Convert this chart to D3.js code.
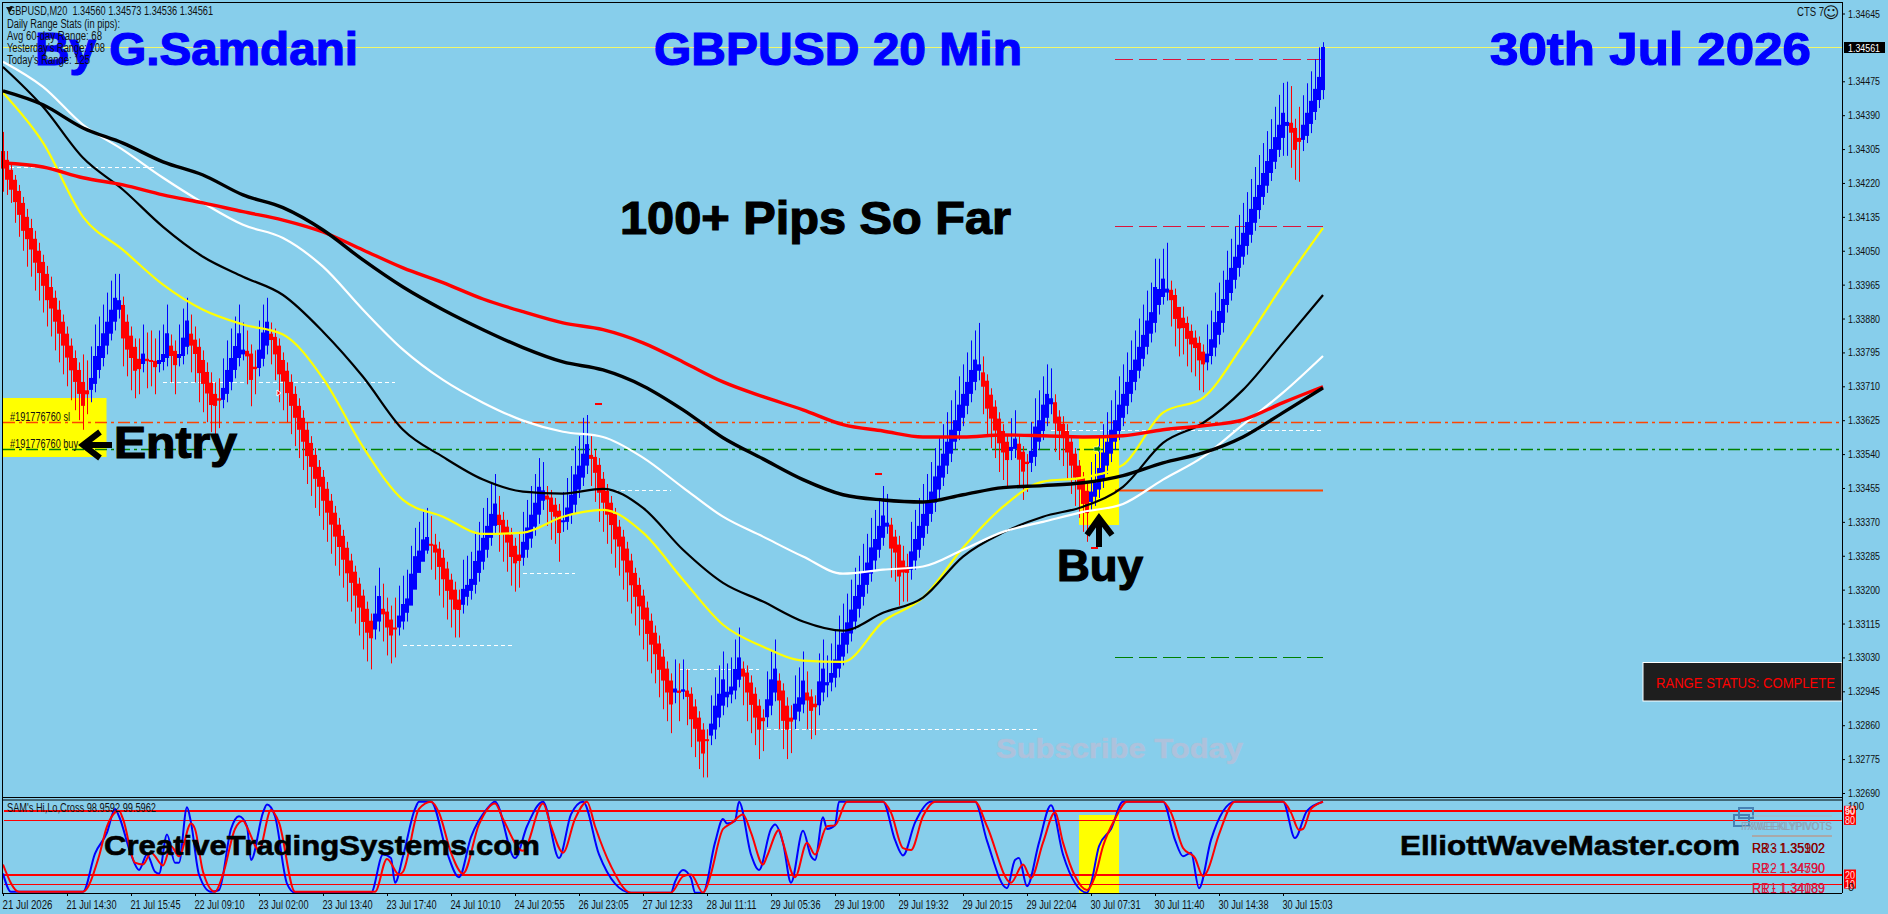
<!DOCTYPE html>
<html>
<head>
<meta charset="utf-8">
<title>GBPUSD 20 Min</title>
<script src="https://cdnjs.cloudflare.com/ajax/libs/d3/7.8.5/d3.min.js"></script>
<style>
  html, body { margin: 0; padding: 0; background: #87ceeb; overflow: hidden; }
  svg { display: block; }
  text { font-family: "Liberation Sans", Arial, sans-serif; }
</style>
</head>
<body>
<svg id="chart" width="1888" height="914"></svg>
<script>
// prices are points above 1.30000, so 4561 means 1.34561
const opens = [
  4300,4278,4253,4228,4200,4170,4135,4107,4080,4050,
  4022,3992,3959,3932,3902,3872,3842,3812,3781,3751,
  3721,3700,3701,3716,3751,3781,3812,3842,3872,3902,
  3914,3872,3837,3809,3779,3766,3779,3776,3774,3766,
  3771,3781,3812,3799,3781,3786,3809,3842,3827,3809,
  3776,3746,3719,3691,3680,3676,3691,3721,3751,3781,
  3790,3799,3792,3759,3756,3779,3812,3842,3834,3812,
  3776,3749,3721,3691,3661,3631,3601,3568,3538,3508,
  3483,3453,3423,3393,3363,3335,3305,3273,3245,3215,
  3185,3152,3122,3100,3120,3152,3145,3125,3105,3105,
  3120,3142,3160,3200,3242,3270,3298,3315,3313,3303,
  3280,3253,3225,3200,3175,3162,3182,3197,3212,3242,
  3270,3300,3330,3360,3388,3375,3358,3338,3310,3288,
  3280,3300,3328,3358,3388,3423,3436,3431,3413,3398,
  3370,3370,3388,3413,3451,3481,3511,3538,3533,3513,
  3478,3448,3418,3390,3358,3333,3303,3273,3242,3212,
  3185,3155,3122,3092,3065,3032,3002,2972,2942,2947,
  2944,2947,2939,2907,2879,2849,2825,2834,2849,2879,
  2909,2930,2937,2947,2974,3002,2992,2967,2939,2909,
  2879,2880,2909,2942,2972,2947,2909,2879,2874,2894,
  2912,2942,2932,2914,2910,2942,2960,2967,2979,3002,
  3032,3062,3090,3120,3152,3182,3212,3240,3273,3300,
  3330,3358,3363,3333,3313,3273,3258,3250,3273,3300,
  3330,3360,3390,3418,3451,3481,3511,3541,3571,3598,
  3631,3661,3691,3721,3749,3745,3724,3689,3659,3629,
  3598,3571,3548,3553,3566,3546,3521,3518,3533,3571,
  3598,3631,3665,3670,3634,3616,3598,3571,3541,3511,
  3481,3448,3420,3433,3451,3478,3511,3541,3571,3598,
  3631,3661,3691,3721,3749,3779,3809,3842,3869,3914,
  3934,3945,3952,3939,3909,3882,3869,3849,3832,3819,
  3797,3770,3786,3807,3839,3869,3914,3944,3977,4007,
  4035,4062,4090,4120,4152,4185,4213,4245,4273,4303,
  4333,4363,4371,4358,4333,4328,4338,4368,4398,4428,4453
];
const closes = [
  4256,4228,4203,4172,4140,4100,4079,4053,4020,3994,
  3962,3926,3905,3872,3842,3812,3782,3750,3721,3691,
  3661,3690,3731,3786,3811,3843,3872,3902,3932,3926,
  3830,3802,3781,3749,3753,3792,3773,3772,3758,3776,
  3791,3843,3786,3763,3791,3832,3875,3812,3791,3743,
  3716,3692,3663,3661,3674,3706,3751,3781,3811,3843,
  3802,3785,3726,3753,3802,3845,3872,3826,3790,3740,
  3722,3693,3661,3631,3601,3571,3535,3508,3478,3458,
  3423,3393,3363,3333,3307,3275,3241,3217,3185,3155,
  3119,3092,3078,3140,3184,3138,3105,3085,3100,3135,
  3164,3178,3240,3284,3298,3326,3332,3311,3293,3257,
  3226,3197,3175,3150,3149,3202,3212,3227,3272,3298,
  3330,3360,3390,3416,3362,3341,3318,3282,3266,3272,
  3320,3356,3388,3418,3458,3449,3426,3395,3383,3342,
  3374,3406,3438,3489,3511,3541,3565,3528,3493,3443,
  3418,3388,3362,3326,3308,3273,3243,3211,3182,3158,
  3125,3089,3062,3038,2999,2972,2942,2912,2952,2941,
  2950,2931,2875,2851,2819,2789,2821,2864,2909,2939,
  2975,2944,2957,3001,3030,2982,2942,2911,2879,2849,
  2870,2925,2975,3002,2922,2871,2849,2869,2914,2930,
  2972,2922,2896,2905,2970,3002,2968,2991,3025,3062,
  3092,3118,3150,3184,3212,3242,3268,3306,3327,3360,
  3386,3368,3303,3293,3233,3243,3242,3296,3327,3360,
  3390,3420,3446,3484,3511,3541,3571,3601,3625,3664,
  3691,3721,3751,3777,3765,3709,3654,3629,3599,3567,
  3544,3525,3558,3579,3526,3496,3515,3548,3609,3625,
  3664,3691,3680,3617,3598,3580,3544,3511,3481,3451,
  3415,3392,3446,3469,3505,3544,3571,3601,3625,3664,
  3691,3721,3751,3777,3809,3839,3875,3896,3959,3954,
  3980,3955,3926,3879,3855,3856,3829,3815,3806,3775,
  3765,3792,3828,3871,3899,3929,3977,4007,4035,4065,
  4095,4122,4155,4185,4215,4245,4275,4305,4335,4366,
  4396,4373,4346,4303,4323,4366,4396,4426,4456,4486,4561
];
const highs = [
  4348,4300,4268,4240,4215,4185,4155,4130,4100,4070,
  4040,4012,3985,3950,3925,3890,3860,3830,3800,3770,
  3790,3775,3810,3865,3885,3915,3945,3975,3992,3992,
  3935,3890,3860,3830,3830,3865,3845,3850,3830,3850,
  3865,3915,3840,3825,3865,3905,3932,3890,3860,3830,
  3800,3770,3745,3720,3730,3780,3825,3855,3885,3915,
  3870,3850,3815,3800,3875,3915,3932,3870,3855,3830,
  3795,3770,3740,3710,3680,3650,3620,3585,3555,3525,
  3500,3470,3440,3410,3380,3350,3320,3290,3260,3230,
  3200,3170,3140,3210,3255,3215,3180,3160,3180,3210,
  3235,3250,3310,3355,3370,3395,3405,3385,3340,3320,
  3300,3270,3240,3220,3200,3275,3285,3295,3345,3370,
  3405,3430,3465,3490,3435,3395,3375,3355,3330,3345,
  3395,3425,3460,3490,3530,3520,3460,3450,3430,3415,
  3445,3480,3510,3560,3585,3631,3638,3585,3550,3530,
  3495,3465,3435,3405,3375,3350,3320,3290,3255,3230,
  3200,3170,3140,3110,3085,3050,3020,2990,3025,3015,
  3025,3000,2955,2925,2895,2865,2850,2935,2980,3010,
  3045,3015,3030,3075,3105,3020,3010,2985,2955,2925,
  2900,2995,3045,3075,2990,2965,2930,2910,2985,3005,
  3045,2995,2950,2935,3040,3075,3035,3065,3100,3135,
  3165,3190,3225,3255,3285,3315,3340,3380,3400,3430,
  3460,3440,3380,3350,3335,3310,3290,3370,3400,3430,
  3465,3490,3520,3555,3585,3615,3645,3675,3700,3735,
  3765,3795,3825,3850,3869,3785,3740,3705,3675,3645,
  3615,3590,3630,3650,3585,3560,3540,3620,3680,3700,
  3735,3765,3755,3690,3650,3635,3615,3585,3555,3525,
  3495,3465,3520,3540,3580,3615,3645,3675,3700,3735,
  3765,3795,3825,3850,3880,3915,3950,3970,4030,4030,
  4055,4070,3975,3955,3905,3910,3885,3865,3850,3835,
  3815,3865,3900,3945,3970,4000,4050,4080,4110,4140,
  4170,4197,4230,4260,4290,4320,4350,4380,4411,4441,
  4471,4474,4463,4381,4411,4440,4470,4500,4530,4560,4573
];
const lows = [
  4198,4190,4170,4120,4085,4050,4010,3985,3950,3925,
  3895,3860,3835,3800,3770,3740,3710,3675,3650,3625,
  3601,3640,3670,3695,3730,3760,3790,3825,3850,3880,
  3760,3735,3700,3680,3690,3745,3705,3710,3690,3745,
  3750,3760,3720,3690,3760,3765,3790,3745,3720,3670,
  3645,3620,3595,3590,3605,3655,3670,3700,3730,3760,
  3775,3715,3660,3690,3735,3760,3790,3765,3725,3670,
  3650,3620,3590,3560,3530,3500,3465,3435,3405,3385,
  3350,3320,3290,3260,3235,3205,3170,3145,3115,3085,
  3050,3020,3000,3075,3095,3070,3035,3015,3030,3085,
  3100,3120,3175,3215,3250,3275,3290,3250,3225,3185,
  3155,3125,3105,3080,3080,3140,3160,3175,3190,3220,
  3250,3280,3310,3340,3295,3270,3245,3210,3195,3205,
  3260,3280,3305,3335,3365,3400,3360,3325,3315,3270,
  3345,3350,3365,3390,3430,3460,3490,3460,3420,3370,
  3345,3315,3290,3255,3235,3200,3170,3140,3110,3085,
  3050,3020,2990,2965,2930,2900,2870,2840,2915,2870,
  2925,2860,2805,2780,2750,2729,2729,2810,2825,2855,
  2885,2905,2915,2925,2955,2910,2870,2840,2810,2775,
  2795,2855,2885,2920,2850,2800,2775,2790,2850,2870,
  2890,2850,2825,2835,2885,2920,2930,2945,2955,2980,
  3010,3040,3070,3100,3130,3160,3190,3220,3250,3280,
  3310,3340,3230,3220,3160,3170,3170,3225,3250,3280,
  3310,3340,3370,3395,3430,3460,3490,3520,3550,3575,
  3610,3640,3670,3700,3725,3640,3585,3555,3530,3495,
  3475,3455,3525,3530,3455,3425,3445,3495,3510,3550,
  3575,3610,3640,3545,3525,3510,3475,3440,3410,3380,
  3345,3320,3400,3410,3430,3455,3490,3520,3550,3575,
  3610,3640,3670,3700,3730,3760,3790,3820,3845,3890,
  3915,3925,3860,3810,3785,3790,3760,3745,3735,3700,
  3695,3750,3765,3785,3815,3845,3895,3925,3955,3985,
  4015,4040,4070,4100,4130,4165,4195,4225,4255,4285,
  4288,4288,4258,4228,4223,4300,4320,4345,4378,4408,4430
];

// moving averages, one reading every 10 bars
const maBars = [0,10,20,30,40,50,60,70,80,90,100,110,120,130,140,150,160,170,180,190,200,210,220,230,240,250,260,270,280,290,300,310,320,330];
const maRedThick = [4270,4260,4233,4215,4190,4170,4148,4127,4097,4052,4007,3970,3929,3897,3869,3852,3819,3771,3721,3684,3651,3614,3598,3583,3583,3588,3586,3583,3586,3601,3611,3626,3669,3709];
const maBlackThick = [4451,4416,4358,4320,4273,4240,4190,4158,4102,4027,3959,3902,3852,3807,3771,3751,3711,3651,3581,3528,3476,3438,3425,3420,3438,3456,3461,3468,3486,3518,3543,3583,3644,3706];
const maWhite = [4524,4461,4366,4303,4233,4170,4115,4082,4010,3902,3802,3726,3669,3624,3596,3583,3531,3456,3383,3333,3283,3240,3250,3258,3300,3345,3370,3395,3415,3476,3533,3614,3694,3786];
const maBlackThin = [4511,4411,4283,4203,4110,4035,3985,3939,3847,3734,3601,3533,3476,3446,3441,3453,3405,3300,3217,3170,3120,3097,3142,3180,3283,3343,3383,3408,3458,3568,3618,3701,3819,3939];
const maYellow = [4446,4321,4135,4052,3965,3902,3865,3840,3730,3558,3425,3383,3340,3343,3383,3400,3343,3225,3112,3057,3022,3019,3120,3180,3305,3408,3471,3481,3513,3644,3681,3814,3965,4107];

// Hi,Lo cross oscillator turning points
const oscBlueBars = [0,2,20,23,26,28,29,32,34,36,38,39,41,43,44,46,47,49,52,54,57,59,61,62,65,66,68,71,73,92,95,97,98,100,103,104,107,111,114,117,121,123,128,131,135,139,142,145,149,153,157,167,168,170,172,173,175,178,180,181,183,184,187,189,192,193,195,197,200,202,203,205,206,208,209,211,220,223,225,228,232,234,243,246,251,253,254,256,259,262,265,271,272,274,277,280,282,290,293,295,297,299,302,308,314,320,323,326,330];
const oscBlue = [21,1,1,43,66,92,84,42,25,42,23,21,64,33,33,94,77,20,1,3,70,84,73,36,88,97,84,10,0,0,42,38,11,40,92,100,100,44,17,61,92,100,38,73,100,38,86,100,42,10,0,0,12,25,16,0,0,55,81,76,79,100,42,25,70,75,55,11,68,40,36,83,70,74,100,100,100,58,41,77,100,100,100,57,5,36,38,7,55,96,42,0,10,51,70,100,100,100,58,40,44,5,58,100,100,100,60,90,100];
const oscRedBars = [0,4,20,24,26,29,30,33,35,37,40,42,44,47,48,50,53,55,58,60,61,64,67,69,73,93,96,99,100,104,107,109,112,115,119,123,125,130,135,137,140,143,146,148,152,157,167,170,172,175,176,177,180,182,185,187,190,191,194,195,198,201,203,206,208,211,220,222,225,227,230,233,243,246,252,255,257,260,263,265,268,271,273,275,278,281,290,292,295,298,300,301,304,308,320,322,324,325,327,330];
const oscRed = [31,1,1,40,73,90,81,33,31,44,30,51,40,76,70,23,1,20,70,79,72,47,91,77,1,1,37,20,23,92,100,88,44,21,75,98,81,46,98,73,44,81,100,73,29,0,0,18,20,0,7,21,70,76,86,66,31,40,69,55,17,55,42,73,74,100,100,88,49,47,84,100,100,73,11,31,16,55,88,55,18,3,18,51,81,100,100,88,49,38,18,23,64,100,100,88,69,70,92,100];
const oscLevels = [90, 80, 20, 10];

const priceTicks = [4645,4475,4390,4305,4220,4135,4050,3965,3880,3795,3710,3625,3540,3455,3370,3285,3200,3115,3030,2945,2860,2775,2690];
const timeLabels = ["21 Jul 2026","21 Jul 14:30","21 Jul 15:45","22 Jul 09:10","23 Jul 02:00","23 Jul 13:40","23 Jul 17:40","24 Jul 10:10","24 Jul 20:55","26 Jul 23:05","27 Jul 12:33","28 Jul 11:11","29 Jul 05:36","29 Jul 19:00","29 Jul 19:32","29 Jul 20:15","29 Jul 22:04","30 Jul 07:31","30 Jul 11:40","30 Jul 14:38","30 Jul 15:03"];
const lastPrice = 4561;
const slLevel = 3620;
const buyLevel = 3552;
const statsLines = ["Daily Range Stats (in pips):","Avg 60-day Range: 68","Yesterday's Range: 108","Today's Range: 125"];
const statsWidths = [113, 95, 98, 83];

// range lines: [price, first bar, last bar]
const whiteLevels = [[4260,0,38],[3721,40,61],[3721,64,98],[3243,130,143],[3449,151,167],[3062,100,128],[3001,169,189],[2851,191,259],[3600,262,330]];
const dayLevels = [[4530,"#dc143c"],[4112,"#dc143c"],[3031,"#008000"]];
const dayStart = 278;
const orangeLevel = 3451;
const pivotLabels = [["R3 - 1.35102","RR3 1.35902","#8b0000",853],["R2 - 1.34590","RR2 1.34790","#dc143c",873],["R1 - 1.34189","RR1 1.34089","#dc143c",893]];

const svg = d3.select("#chart");
const bg = "#87ceeb";

const x = d3.scaleLinear().domain([0, 330]).range([3, 1323]);
const y = d3.scaleLinear().domain([2690, 4645]).range([793, 13.5]);
const yOsc = d3.scaleLinear().domain([0, 100]).range([892.7, 801.7]);
const fmtPrice = d => "1." + String(30000 + d);
const snap = v => Math.round(v) + 0.5; // keeps 1px lines crisp

function label(t, px, py, o) {
  o = o || {};
  const el = svg.append("text").attr("x", px).attr("y", py).text(t)
    .attr("font-size", o.size || 12)
    .attr("font-weight", o.bold ? "bold" : null)
    .attr("fill", o.fill || "#111")
    .attr("stroke", o.heavy ? (o.fill || "#111") : null)
    .attr("stroke-width", o.heavy || null);
  if (o.w) el.attr("textLength", o.w).attr("lengthAdjust", "spacingAndGlyphs");
  return el;
}

function hline(v, b0, b1, color, dash, width) {
  svg.append("line").attr("x1", b0).attr("x2", b1).attr("y1", snap(y(v))).attr("y2", snap(y(v)))
    .attr("stroke", color).attr("stroke-dasharray", dash).attr("stroke-width", width || 1);
}

svg.append("rect").attr("width", 1888).attr("height", 914).attr("fill", bg);

// yellow boxes behind the bars
svg.append("rect").attr("x", 3).attr("y", 398).attr("width", 103.5).attr("height", 59).attr("fill", "#ffff00");
svg.append("rect").attr("x", x(269)).attr("y", 438).attr("width", 40).attr("height", 87).attr("fill", "#ffff00");
svg.append("rect").attr("x", x(269)).attr("y", 815).attr("width", 40).attr("height", 78).attr("fill", "#ffff00");

// price line and order lines
hline(lastPrice, 3, 1842, "#f2f76a");
hline(slLevel, 3, 1842, "#ff4500", "12,4,3,4", 1.4);
hline(buyLevel, 3, 1842, "#008000", "12,4,3,4", 1.4);
dayLevels.forEach(d => hline(d[0], x(dayStart), x(330), d[1], "18,6"));
hline(orangeLevel, x(dayStart), x(330), "#ff4500", null, 2);
whiteLevels.forEach(d => hline(d[0], x(d[1]), x(d[2]), "#ffffff", "4,3"));

// bars
const barColor = i => closes[i] < opens[i] ? "#ff0000" : "#0000ff";
svg.append("g").selectAll("line").data(d3.range(opens.length)).join("line")
  .attr("x1", i => x(i) + 0.5).attr("x2", i => x(i) + 0.5)
  .attr("y1", i => y(highs[i])).attr("y2", i => y(lows[i]))
  .attr("stroke", barColor).attr("stroke-width", 1);
svg.append("g").selectAll("rect").data(d3.range(opens.length)).join("rect")
  .attr("x", i => x(i) - 2).attr("width", 4)
  .attr("y", i => y(Math.max(opens[i], closes[i])))
  .attr("height", i => Math.max(2, Math.abs(y(opens[i]) - y(closes[i]))))
  .attr("fill", barColor);

// small order markers
svg.append("rect").attr("x", x(148)).attr("width", 7).attr("y", 403).attr("height", 2).attr("fill", "#ff0000");
svg.append("rect").attr("x", x(218)).attr("width", 7).attr("y", 473).attr("height", 2).attr("fill", "#ff0000");
svg.append("rect").attr("x", x(272)).attr("width", 7).attr("y", 547).attr("height", 2).attr("fill", "#ff0000");
svg.append("path").attr("d", "M277,390 l4,3 l-4,3 z").attr("fill", "#ff0000").attr("stroke", "#fff");
svg.append("path").attr("d", "M1094,447 h4 v-2 l3,4 l-3,4 v-2 h-4 z").attr("fill", "#008000").attr("stroke", "#fff").attr("stroke-width", 0.5);

// moving averages
const maLine = d3.line().x((d, i) => x(maBars[i])).y(d => y(d)).curve(d3.curveMonotoneX);
[[maYellow, "#ffff00", 2.2], [maBlackThin, "#000000", 2.2], [maWhite, "#ffffff", 2.2], [maRedThick, "#ff0000", 3.4], [maBlackThick, "#000000", 3.4]]
  .forEach(m => {
    svg.append("path").attr("d", maLine(m[0])).attr("fill", "none").attr("stroke", m[1]).attr("stroke-width", m[2]);
  });

// big text
label("By G.Samdani", 35, 65, { size: 46, bold: true, fill: "#0000ff", w: 323, heavy: 1.2 });
label("GBPUSD 20 Min", 654, 65, { size: 46, bold: true, fill: "#0000ff", w: 368, heavy: 1.2 });
label("30th Jul 2026", 1490, 65, { size: 47, bold: true, fill: "#0000ff", w: 321, heavy: 1.2 });
label("100+ Pips So Far", 620, 234, { size: 46, bold: true, fill: "#000", w: 391, heavy: 1.2 });
label("Entry", 114, 458, { size: 44, bold: true, fill: "#000", w: 123, heavy: 1.2 });
label("Buy", 1057, 581, { size: 44, bold: true, fill: "#000", w: 86, heavy: 1.2 });
label("Subscribe Today", 996, 758, { size: 27, bold: true, fill: "#aec2dc", w: 247, heavy: 0.5 });

// arrows next to Entry and Buy
svg.append("path").attr("d", "M112,445 H84 M100,432 L83,445 L100,458").attr("fill", "none").attr("stroke", "#000").attr("stroke-width", 6);
svg.append("path").attr("d", "M1099,547 V519 M1087,535 L1099,518 L1112,535").attr("fill", "none").attr("stroke", "#000").attr("stroke-width", 6);

// chart corner text
svg.append("path").attr("d", "M6,7 h7 l-3.5,6 z").attr("fill", "#111");
label("GBPUSD,M20  1.34560 1.34573 1.34536 1.34561", 8, 15, { w: 205 }).style("white-space", "pre");
statsLines.forEach((t, i) => label(t, 7, 28 + i * 12, { w: statsWidths[i] }));
label("#191776760 sl", 10, 421, { w: 60 });
label("#191776760 buy", 10, 448, { w: 68 });
label("CTS 7", 1797, 16, { w: 27 });
svg.append("text").attr("x", 1831).attr("y", 18).attr("text-anchor", "middle").attr("font-size", 16)
  .style("font-family", "DejaVu Sans").attr("fill", "#111").text("\u263a");

// range status panel
svg.append("rect").attr("x", 1643).attr("y", 662.5).attr("width", 199).attr("height", 38.5)
  .attr("fill", "#1e1e1e").attr("stroke", "#ffffff");
label("RANGE STATUS: COMPLETE", 1656, 688, { size: 14, fill: "#ff0000", w: 179 });

// oscillator window
oscLevels.forEach((lv, i) => {
  const yy = i % 2 ? snap(yOsc(lv)) : Math.round(yOsc(lv));
  svg.append("line").attr("x1", 4).attr("x2", 1842).attr("y1", yy).attr("y2", yy)
    .attr("stroke", "#ff0000").attr("stroke-width", i % 2 ? 1 : 2);
});
const blueLine = d3.line().x((d, i) => x(oscBlueBars[i])).y(d => yOsc(d)).curve(d3.curveMonotoneX);
const redLine = d3.line().x((d, i) => x(oscRedBars[i])).y(d => yOsc(d)).curve(d3.curveMonotoneX);
svg.append("path").attr("d", blueLine(oscBlue)).attr("fill", "none").attr("stroke", "#0000ff").attr("stroke-width", 2);
svg.append("path").attr("d", redLine(oscRed)).attr("fill", "none").attr("stroke", "#ff0000").attr("stroke-width", 2);

label("SAM's Hi,Lo,Cross 98.9592 99.5962", 7, 812, { w: 149 });
label("CreativeTradingSystems.com", 104, 855, { size: 28, bold: true, fill: "#000", w: 436, heavy: 0.6 });
label("ElliottWaveMaster.com", 1400, 855, { size: 28, bold: true, fill: "#000", w: 340, heavy: 0.6 });

// pivot panel, two labels printed on top of each other
svg.append("rect").attr("x", 1739).attr("y", 808).attr("width", 14).attr("height", 10).attr("fill", "none").attr("stroke", "#4682b4").attr("stroke-width", 2);
svg.append("rect").attr("x", 1734).attr("y", 815).attr("width", 15).attr("height", 11).attr("fill", "none").attr("stroke", "#4682b4").attr("stroke-width", 2);
svg.append("line").attr("x1", 1752).attr("x2", 1832).attr("y1", 816).attr("y2", 816).attr("stroke", "#a9b8c4");
svg.append("line").attr("x1", 1752).attr("x2", 1832).attr("y1", 836).attr("y2", 836).attr("stroke", "#a9a9a9").attr("stroke-width", 2);
label("FXWEEKLYPIVOTS", 1741, 830, { size: 11, fill: "#8fa3b5", w: 91 });
label("FXWEEKLYPIVOTS", 1744, 830, { size: 11, fill: "#8fa3b5", w: 88 });
pivotLabels.forEach(r => {
  label(r[0], 1752, r[3], { size: 14, fill: r[2], w: 73 });
  label(r[1], 1752, r[3], { size: 14, fill: r[2], w: 73 });
});

// right side scale of the oscillator
oscLevels.forEach(lv => {
  svg.append("rect").attr("x", 1844).attr("y", yOsc(lv) - 5).attr("width", 12).attr("height", 10).attr("fill", "#ff0000");
  label(lv, 1845, yOsc(lv) + 4, { size: 11, fill: "#ffe0e0", w: 10 });
});
label("100", 1848, 810, { size: 11, w: 16 });
label("50", 1845, 814, { size: 11, fill: "#ffe0e0", w: 10 });
label("0", 1848, 891, { size: 11 });

// axes
const yAxis = d3.axisRight(y).tickValues(priceTicks).tickFormat(fmtPrice).tickSize(3).tickPadding(3);
const yG = svg.append("g").attr("transform", "translate(1842,0)").call(yAxis);
yG.select(".domain").remove();
yG.selectAll("text").attr("font-size", 11).attr("fill", "#111").style("font-family", "Liberation Sans")
  .attr("textLength", 32).attr("lengthAdjust", "spacingAndGlyphs");

const xTicks = timeLabels.map((t, i) => i * 16);
const xAxis = d3.axisBottom(x).tickValues(xTicks).tickFormat((d, i) => timeLabels[i]).tickSize(3).tickPadding(3);
const xG = svg.append("g").attr("transform", "translate(0,893)").call(xAxis);
xG.select(".domain").remove();
xG.selectAll("text").attr("text-anchor", "start").attr("font-size", 12).attr("fill", "#111")
  .style("font-family", "Liberation Sans").attr("x", -1).attr("y", 7)
  .attr("textLength", 50).attr("lengthAdjust", "spacingAndGlyphs");

// frame
const frame = [[2, 2.5, 1842, 2.5], [2.5, 2, 2.5, 893], [1842.5, 2, 1842.5, 893], [2, 797.5, 1842, 797.5], [2, 800, 1842, 800], [2, 893.5, 1842, 893.5]];
frame.forEach(f => {
  svg.append("line").attr("x1", f[0]).attr("y1", f[1]).attr("x2", f[2]).attr("y2", f[3]).attr("stroke", "#000");
});

// last price tag
svg.append("rect").attr("x", 1844).attr("y", 42).attr("width", 41).attr("height", 11).attr("fill", "#000");
label(fmtPrice(lastPrice), 1848, 52, { size: 11, fill: "#fff", w: 32 });
</script>
</body>
</html>
